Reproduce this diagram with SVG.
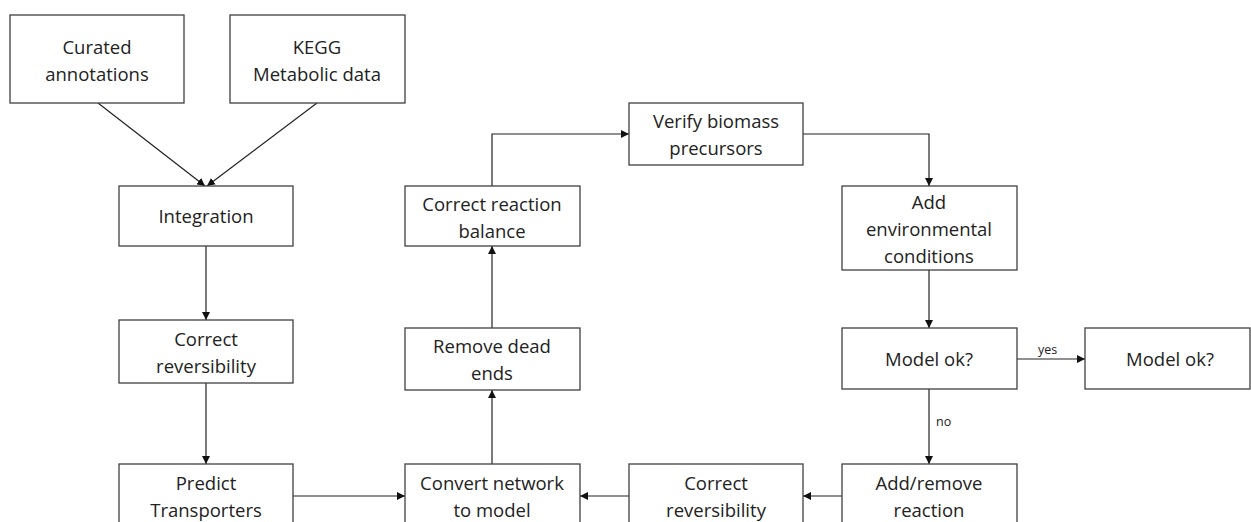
<svg xmlns="http://www.w3.org/2000/svg" width="1251" height="522" viewBox="0 0 1251 522">
<defs>
<style>
.box{fill:#fff;stroke:#404040;stroke-width:1.3}
.t{font-family:"Open Sans","Liberation Sans",sans-serif;font-size:18.5px;fill:#222;text-anchor:middle;dominant-baseline:central}
.s{font-family:"Open Sans","Liberation Sans",sans-serif;font-size:12.5px;fill:#222;text-anchor:start;dominant-baseline:central}
.c{fill:none;stroke:#222;stroke-width:1.2}
</style>
<marker id="ah" viewBox="0 0 10 10" refX="10" refY="5" markerWidth="8" markerHeight="8" markerUnits="userSpaceOnUse" orient="auto">
<path d="M0,0 L10,5 L0,10 z" fill="#111"/>
</marker>
</defs>
<rect width="1251" height="522" fill="#fff"/>
<g id="connectors">
<line class="c" x1="98" y1="103" x2="205" y2="186" marker-end="url(#ah)"/>
<line class="c" x1="317" y1="103" x2="207" y2="186" marker-end="url(#ah)"/>
<line class="c" x1="206" y1="246" x2="206" y2="320" marker-end="url(#ah)"/>
<line class="c" x1="206" y1="383" x2="206" y2="464" marker-end="url(#ah)"/>
<line class="c" x1="293" y1="496" x2="405" y2="496" marker-end="url(#ah)"/>
<line class="c" x1="492" y1="464" x2="492" y2="390" marker-end="url(#ah)"/>
<line class="c" x1="492" y1="328" x2="492" y2="246" marker-end="url(#ah)"/>
<polyline class="c" points="492,186 492,134 629,134" marker-end="url(#ah)"/>
<polyline class="c" points="803,134 929,134 929,186" marker-end="url(#ah)"/>
<line class="c" x1="929" y1="270" x2="929" y2="328" marker-end="url(#ah)"/>
<line class="c" x1="1017" y1="359" x2="1085" y2="359" marker-end="url(#ah)"/>
<text class="s" x="1038" y="349">yes</text>
<line class="c" x1="929" y1="389" x2="929" y2="464" marker-end="url(#ah)"/>
<text class="s" x="936" y="421">no</text>
<line class="c" x1="842" y1="496" x2="803" y2="496" marker-end="url(#ah)"/>
<line class="c" x1="629" y1="496" x2="580" y2="496" marker-end="url(#ah)"/>
</g>
<g id="curated">
<rect class="box" x="10" y="15" width="174" height="88"/>
<text class="t" x="97" y="46">Curated</text>
<text class="t" x="97" y="73">annotations</text>
</g>
<g id="kegg">
<rect class="box" x="230" y="15" width="175" height="88"/>
<text class="t" x="317" y="46">KEGG</text>
<text class="t" x="317" y="73">Metabolic data</text>
</g>
<g id="integration">
<rect class="box" x="119" y="186" width="174" height="60"/>
<text class="t" x="206" y="215">Integration</text>
</g>
<g id="correct-rev-1">
<rect class="box" x="119" y="320" width="174" height="63"/>
<text class="t" x="206" y="338">Correct</text>
<text class="t" x="206" y="365">reversibility</text>
</g>
<g id="predict">
<rect class="box" x="119" y="464" width="174" height="70"/>
<text class="t" x="206" y="482">Predict</text>
<text class="t" x="206" y="509">Transporters</text>
</g>
<g id="convert">
<rect class="box" x="405" y="464" width="175" height="70"/>
<text class="t" x="492" y="482">Convert network</text>
<text class="t" x="492" y="509">to model</text>
</g>
<g id="remove">
<rect class="box" x="405" y="328" width="175" height="62"/>
<text class="t" x="492" y="345">Remove dead</text>
<text class="t" x="492" y="372">ends</text>
</g>
<g id="balance">
<rect class="box" x="405" y="186" width="175" height="60"/>
<text class="t" x="492" y="203">Correct reaction</text>
<text class="t" x="492" y="230">balance</text>
</g>
<g id="verify">
<rect class="box" x="629" y="103" width="174" height="62"/>
<text class="t" x="716" y="120">Verify biomass</text>
<text class="t" x="716" y="147">precursors</text>
</g>
<g id="env">
<rect class="box" x="842" y="186" width="175" height="84"/>
<text class="t" x="929" y="201">Add</text>
<text class="t" x="929" y="228">environmental</text>
<text class="t" x="929" y="255">conditions</text>
</g>
<g id="modelok">
<rect class="box" x="842" y="328" width="175" height="61"/>
<text class="t" x="929" y="358">Model ok?</text>
</g>
<g id="modelok2">
<rect class="box" x="1085" y="328" width="165" height="61"/>
<text class="t" x="1170" y="358">Model ok?</text>
</g>
<g id="correct-rev-2">
<rect class="box" x="629" y="464" width="174" height="70"/>
<text class="t" x="716" y="482">Correct</text>
<text class="t" x="716" y="509">reversibility</text>
</g>
<g id="addremove">
<rect class="box" x="842" y="464" width="175" height="70"/>
<text class="t" x="929" y="482">Add/remove</text>
<text class="t" x="929" y="509">reaction</text>
</g>
</svg>
